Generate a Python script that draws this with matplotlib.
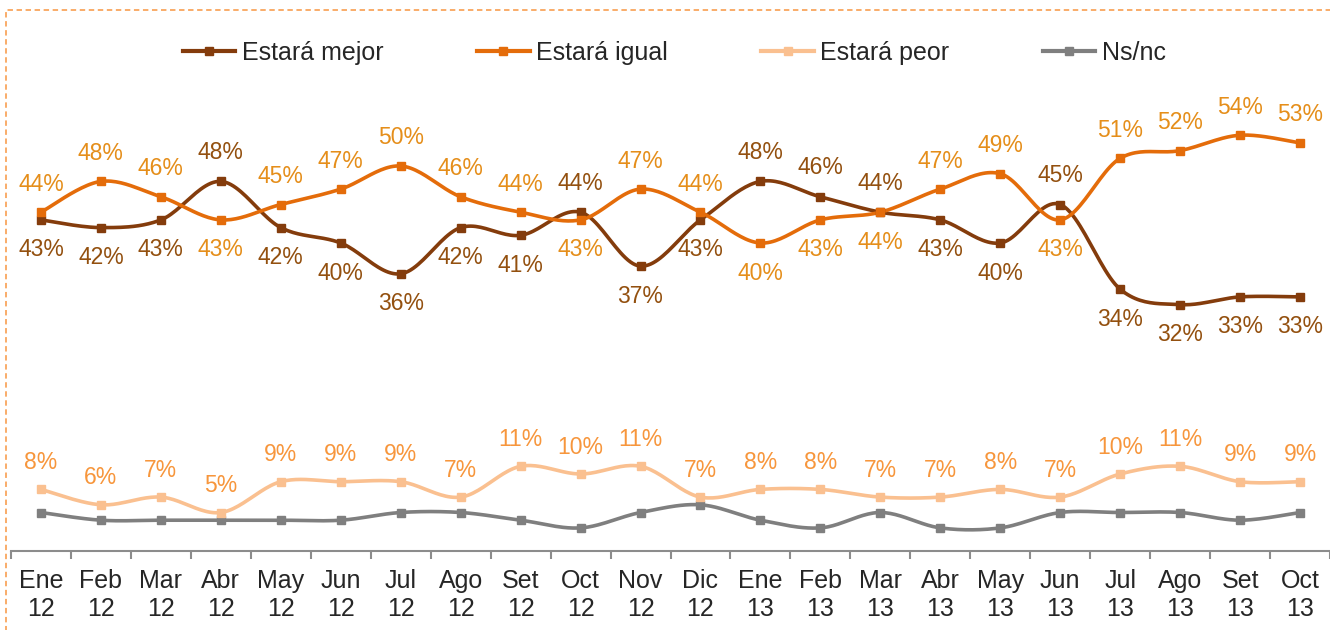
import numpy as np
import matplotlib
matplotlib.use("Agg")
import matplotlib.pyplot as plt
from matplotlib import font_manager
from matplotlib.patches import Rectangle
from matplotlib.lines import Line2D

# -------------------- data --------------------
months = ["Ene", "Feb", "Mar", "Abr", "May", "Jun", "Jul", "Ago", "Set", "Oct", "Nov", "Dic",
          "Ene", "Feb", "Mar", "Abr", "May", "Jun", "Jul", "Ago", "Set", "Oct"]
years = ["12"] * 12 + ["13"] * 10

mejor = [43, 42, 43, 48, 42, 40, 36, 42, 41, 44, 37, 43, 48, 46, 44, 43, 40, 45, 34, 32, 33, 33]
igual = [44, 48, 46, 43, 45, 47, 50, 46, 44, 43, 47, 44, 40, 43, 44, 47, 49, 43, 51, 52, 54, 53]
peor = [8, 6, 7, 5, 9, 9, 9, 7, 11, 10, 11, 7, 8, 8, 7, 7, 8, 7, 10, 11, 9, 9]
nsnc = [5, 4, 4, 4, 4, 4, 5, 5, 4, 3, 5, 6, 4, 3, 5, 3, 3, 5, 5, 5, 4, 5]

series_names = ["Estará mejor", "Estará igual", "Estará peor", "Ns/nc"]

# -------------------- style --------------------
c_mejor, c_igual, c_peor, c_ns = "#843C0C", "#E46C0A", "#FAC090", "#7F7F7F"
lab_mejor, lab_igual, lab_peor = "#93500F", "#E58E1A", "#F7963C"
txt = "#262626"

avail = {f.name for f in font_manager.fontManager.ttflist}
font = next((f for f in ["Liberation Sans", "Noto Sans", "DejaVu Sans"] if f in avail), "DejaVu Sans")
plt.rcParams["font.family"] = font

fs_lab = 16.5
fs_tick = 18


def smooth(y, n=25):
    # Catmull-Rom style smoothing like the spreadsheet's "smoothed line"
    y = np.asarray(y, float)
    m = len(y)
    xs, ys = [], []
    t = np.linspace(0, 1, n)
    for i in range(m - 1):
        p0, p1, p2, p3 = y[max(i - 1, 0)], y[i], y[i + 1], y[min(i + 2, m - 1)]
        x0, x1, x2, x3 = max(i - 1, 0), i, i + 1, min(i + 2, m - 1)
        b1, b2 = p1 + (p2 - p0) / 6, p2 - (p3 - p1) / 6
        bx1, bx2 = x1 + (x2 - x0) / 6, x2 - (x3 - x1) / 6
        xs.append((1 - t) ** 3 * x1 + 3 * (1 - t) ** 2 * t * bx1 + 3 * (1 - t) * t ** 2 * bx2 + t ** 3 * x2)
        ys.append((1 - t) ** 3 * p1 + 3 * (1 - t) ** 2 * t * b1 + 3 * (1 - t) * t ** 2 * b2 + t ** 3 * p2)
    return np.concatenate(xs), np.concatenate(ys)


fig = plt.figure(figsize=(13.3, 6.3), dpi=100)
px_per = 7.7
ax = fig.add_axes([11 / 1330, 79 / 630, 1319 / 1330, 60 * px_per / 630])

x = np.arange(len(months))
for vals, col in [(nsnc, c_ns), (peor, c_peor), (mejor, c_mejor), (igual, c_igual)]:
    sx, sy = smooth(vals)
    ax.plot(sx, sy, color=col, lw=2.6, solid_capstyle="round", zorder=3)
    ax.plot(x, vals, ls="none", marker="s", ms=6, color=col, zorder=4)

# data labels: the higher of mejor/igual gets its label above
for i in range(len(x)):
    m_up = mejor[i] >= igual[i]
    ax.annotate(f"{mejor[i]}%", (i, mejor[i]), xytext=(0, 29 if m_up else -30),
                textcoords="offset pixels", ha="center", va="center",
                fontsize=fs_lab, color=lab_mejor, zorder=5)
    ax.annotate(f"{igual[i]}%", (i, igual[i]), xytext=(0, -30 if m_up else 28),
                textcoords="offset pixels", ha="center", va="center",
                fontsize=fs_lab, color=lab_igual, zorder=5)
    ax.annotate(f"{peor[i]}%", (i, peor[i]), xytext=(0, 27),
                textcoords="offset pixels", ha="center", va="center",
                fontsize=fs_lab, color=lab_peor, zorder=5)

ax.set_xlim(-0.5, len(months) - 0.5)
ax.set_ylim(0, 60)
ax.set_yticks([])
for s in ["left", "top", "right"]:
    ax.spines[s].set_visible(False)
ax.spines["bottom"].set_color("#8C8C8C")
ax.spines["bottom"].set_linewidth(1.5)

ax.set_xticks(x)
ax.set_xticklabels([f"{m}\n{y}" for m, y in zip(months, years)], fontsize=fs_tick,
                   color=txt, linespacing=1.2)
ax.tick_params(axis="x", which="major", length=0, pad=13)
ax.set_xticks(np.arange(-0.5, len(months), 1), minor=True)
ax.tick_params(axis="x", which="minor", length=6, width=1.5, color="#8C8C8C")

# legend
handles = [Line2D([], [], color=c, lw=3, marker="s", ms=6)
           for c in [c_mejor, c_igual, c_peor, c_ns]]
fig.legend(handles, series_names, loc="center", bbox_to_anchor=(0.507, 1 - 53 / 630),
           ncol=4, frameon=False, fontsize=fs_tick, handlelength=2.1, handletextpad=0.25,
           columnspacing=3.75, labelcolor=txt)

# dashed frame (right and bottom edges fall outside the picture)
fig.patches.append(Rectangle((6 / 1330, -0.1), 1.2, 1.1 - 10 / 630, transform=fig.transFigure,
                             fill=False, ec="#F9A65E", lw=1.3, ls=(0, (3, 2))))

fig.savefig("out.png", dpi=100)
